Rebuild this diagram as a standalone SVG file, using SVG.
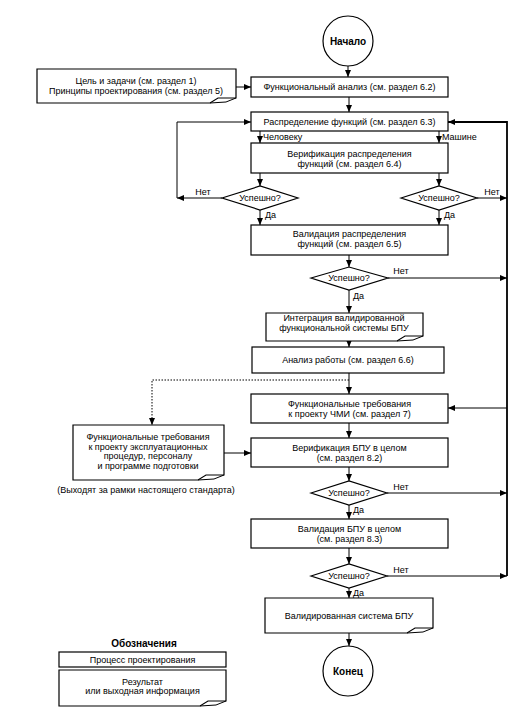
<svg xmlns="http://www.w3.org/2000/svg" width="530" height="714" viewBox="0 0 530 714">
<style>
text{font-family:"Liberation Sans",Arial,sans-serif;font-size:9px;fill:#000;text-anchor:middle}
.l{text-anchor:start}
.b{font-weight:bold;font-size:10px}
.box{fill:#fff;stroke:#000;stroke-width:1.2}
.c{fill:none;stroke:#000;stroke-width:1}
.thick{stroke-width:1.8}
.dot{stroke-dasharray:1.5 1.5}
</style>
<defs>
<marker id="a" markerUnits="userSpaceOnUse" markerWidth="8" markerHeight="6" refX="7" refY="3" orient="auto">
<path d="M0,0 L7,3 L0,6 z" fill="#000"/>
</marker>
</defs>
<rect width="530" height="714" fill="#fff"/>
<g id="connectors">
<path class="c" d="M348 66 V77" marker-end="url(#a)"/>
<path class="c" d="M236 87 H251" marker-end="url(#a)"/>
<path class="c" d="M349 97 V112" marker-end="url(#a)"/>
<path class="c" d="M260 131 V143" marker-end="url(#a)"/>
<path class="c" d="M439 131 V143" marker-end="url(#a)"/>
<path class="c" d="M260 173 V186" marker-end="url(#a)"/>
<path class="c" d="M439 173 V186" marker-end="url(#a)"/>
<path class="c" d="M222 198 H177" marker-end="url(#a)"/>
<path class="c" d="M177 198 V122 H251" marker-end="url(#a)"/>
<path class="c" d="M260 210 V225" marker-end="url(#a)"/>
<path class="c" d="M439 210 V225" marker-end="url(#a)"/>
<path class="c" d="M477 198 H507" marker-end="url(#a)"/>
<path class="c" d="M349 255 V267" marker-end="url(#a)"/>
<path class="c" d="M388 278 H507" marker-end="url(#a)"/>
<path class="c" d="M349 290 V313" marker-end="url(#a)"/>
<path class="c" d="M349 341 V347" marker-end="url(#a)"/>
<path class="c" d="M349 373 V394" marker-end="url(#a)"/>
<path class="c dot" d="M349 380 H152 V425" marker-end="url(#a)"/>
<path class="c thick" d="M507 576 V122 H448" marker-end="url(#a)"/>
<path class="c" d="M507 408 H448" marker-end="url(#a)"/>
<path class="c" d="M224 453 H251" marker-end="url(#a)"/>
<path class="c" d="M349 423 V438" marker-end="url(#a)"/>
<path class="c" d="M349 467 V481" marker-end="url(#a)"/>
<path class="c" d="M387 493 H507" marker-end="url(#a)"/>
<path class="c" d="M349 505 V519" marker-end="url(#a)"/>
<path class="c" d="M349 548 V564" marker-end="url(#a)"/>
<path class="c" d="M387 576 H507" marker-end="url(#a)"/>
<path class="c" d="M349 588 V598" marker-end="url(#a)"/>
<path class="c" d="M349 633 V646" marker-end="url(#a)"/>
<text x="203" y="195">Нет</text>
<text x="492" y="195">Нет</text>
<text x="401" y="274">Нет</text>
<text x="401" y="490">Нет</text>
<text x="401" y="572.5">Нет</text>
<text class="l" x="265" y="218">Да</text>
<text class="l" x="444" y="218">Да</text>
<text class="l" x="353" y="299">Да</text>
<text class="l" x="353" y="513">Да</text>
<text class="l" x="353" y="596">Да</text>
<text class="l" x="263" y="140">Человеку</text>
<text class="l" x="442" y="140">Машине</text>
</g>
<g id="start">
<circle class="box" cx="348" cy="41" r="25"/>
<text class="b" x="348" y="45">Начало</text>
</g>
<g id="goals">
<path class="box" d="M37 69 H236 V98 H218 L210 103 H37 Z"/>
<path class="c" d="M236 98 L226 102 L210 103"/>
<text x="136" y="84">Цель и задачи (см. раздел 1)</text>
<text x="136" y="94">Принципы проектирования (см. раздел 5)</text>
</g>
<g id="func-analysis">
<rect class="box" x="251" y="77" width="197" height="20"/>
<text x="349.5" y="90">Функциональный анализ (см. раздел 6.2)</text>
</g>
<g id="func-allocation">
<rect class="box" x="251" y="112" width="197" height="19"/>
<text x="349.5" y="124.5">Распределение функций (см. раздел 6.3)</text>
</g>
<g id="alloc-verification">
<rect class="box" x="251" y="143" width="197" height="30"/>
<text x="349.5" y="156.5">Верификация распределения</text>
<text x="349.5" y="166.5">функций (см. раздел 6.4)</text>
</g>
<g id="dec1">
<polygon class="box" points="222,198 260,186 298,198 260,210"/>
<text x="260" y="201">Успешно?</text>
</g>
<g id="dec2">
<polygon class="box" points="401,198 439,186 477,198 439,210"/>
<text x="439" y="201">Успешно?</text>
</g>
<g id="alloc-validation">
<rect class="box" x="251" y="225" width="197" height="30"/>
<text x="349.5" y="236.5">Валидация распределения</text>
<text x="349.5" y="246.5">функций (см. раздел 6.5)</text>
</g>
<g id="dec3">
<polygon class="box" points="311,278 349,267 388,278 349,290"/>
<text x="349" y="281">Успешно?</text>
</g>
<g id="integration">
<path class="box" d="M266 313 H423 V336 H405 L397 341 H266 Z"/>
<path class="c" d="M423 336 L413 340 L397 341"/>
<text x="344" y="321">Интеграция валидированной</text>
<text x="344" y="331">функциональной системы БПУ</text>
</g>
<g id="performance">
<rect class="box" x="252" y="347" width="192" height="26"/>
<text x="348" y="363">Анализ работы (см. раздел 6.6)</text>
</g>
<g id="hmi-req">
<rect class="box" x="251" y="394" width="197" height="29"/>
<text x="349.5" y="406.5">Функциональные требования</text>
<text x="349.5" y="416.5">к проекту ЧМИ (см. раздел 7)</text>
</g>
<g id="ops-req">
<path class="box" d="M73 425 H224 V475 H206 L198 480 H73 Z"/>
<path class="c" d="M224 475 L214 479 L198 480"/>
<text x="148" y="440">Функциональные требования</text>
<text x="148" y="449.7">к проекту эксплуатационных</text>
<text x="148" y="459.3">процедур, персоналу</text>
<text x="148" y="469">и программе подготовки</text>
<text x="146" y="492.5">(Выходят за рамки настоящего стандарта)</text>
</g>
<g id="mcr-verification">
<rect class="box" x="251" y="438" width="197" height="29"/>
<text x="349.5" y="451">Верификация БПУ в целом</text>
<text x="349.5" y="461">(см. раздел 8.2)</text>
</g>
<g id="dec4">
<polygon class="box" points="311,493 349,481 387,493 349,505"/>
<text x="349" y="496">Успешно?</text>
</g>
<g id="mcr-validation">
<rect class="box" x="251" y="519" width="197" height="29"/>
<text x="349.5" y="531.5">Валидация БПУ в целом</text>
<text x="349.5" y="541.5">(см. раздел 8.3)</text>
</g>
<g id="dec5">
<polygon class="box" points="311,576 349,564 387,576 349,588"/>
<text x="349" y="579">Успешно?</text>
</g>
<g id="validated">
<path class="box" d="M265 598 H433 V628 H415 L407 633 H265 Z"/>
<path class="c" d="M433 628 L423 632 L407 633"/>
<text x="349" y="619">Валидированная система БПУ</text>
</g>
<g id="end">
<circle class="box" cx="348" cy="671" r="25"/>
<text class="b" x="348" y="675">Конец</text>
</g>
<g id="legend">
<text class="b" x="144" y="647">Обозначения</text>
<rect class="box" x="59" y="652" width="167" height="15"/>
<text x="142.5" y="662.5">Процесс проектирования</text>
<path class="box" d="M59 670 H226 V701 H208 L200 706 H59 Z"/>
<path class="c" d="M226 701 L216 705 L200 706"/>
<text x="142.5" y="684.5">Результат</text>
<text x="142.5" y="694">или выходная информация</text>
</g>
</svg>
